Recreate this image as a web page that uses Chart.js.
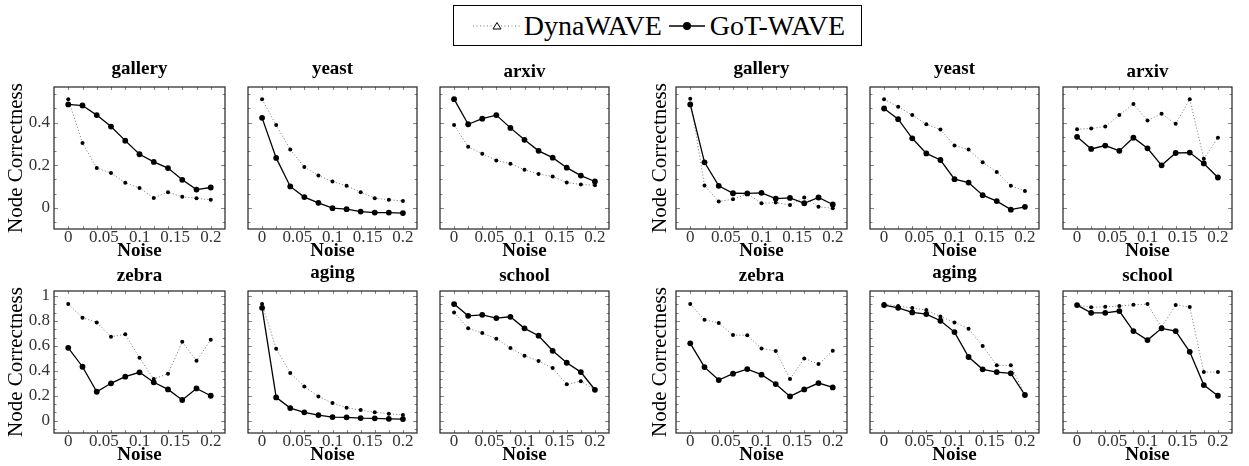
<!DOCTYPE html>
<html>
<head>
<meta charset="utf-8">
<script src="https://cdn.jsdelivr.net/npm/chart.js@4.4.0/dist/chart.umd.min.js"></script>
<style>
  body { margin: 0; background: #fff; width: 1249px; height: 466px; position: relative; overflow: hidden; font-family: "Liberation Serif", serif; }
  canvas { position: absolute; }
  #legend { position: absolute; left: 453px; top: 5px; width: 409px; height: 41px; border: 1px solid #000; box-sizing: border-box;
            display: flex; align-items: center; justify-content: center; font-size: 28px; color: #000; }
  #legend svg { margin: 0 3px; }
  #legend svg.solid { margin: 0 5px 0 7px; }
</style>
</head>
<body>
<div id="legend">
  <svg width="48" height="14"><line x1="0" y1="7" x2="48" y2="7" stroke="#777" stroke-width="1" stroke-dasharray="1 2.5"/><polygon points="24,3.5 28,10 20,10" fill="#fff" stroke="#000" stroke-width="1"/></svg>
  <span id="lgDyna"></span>
  <svg class="solid" width="36" height="14"><line x1="0" y1="7" x2="36" y2="7" stroke="#000" stroke-width="1.4"/><circle cx="18" cy="7" r="4" fill="#000"/></svg>
  <span id="lgGot"></span>
</div>
<script>
// noise levels (x) and axis ticks
const noise = [0, 0.02, 0.04, 0.06, 0.08, 0.1, 0.12, 0.14, 0.16, 0.18, 0.2];
const xTickValues = [0, 0.05, 0.1, 0.15, 0.2];
const xTickLabels = ["0", "0.05", "0.1", "0.15", "0.2"];
const yTicksTop = [0, 0.2, 0.4];
const yTicksTopLabels = ["0", "0.2", "0.4"];
const yTicksBottom = [0, 0.2, 0.4, 0.6, 0.8, 1];
const yTicksBottomLabels = ["0", "0.2", "0.4", "0.6", "0.8", "1"];
const seriesNames = ["DynaWAVE", "GoT-WAVE"];
const titles = ["gallery", "yeast", "arxiv", "zebra", "aging", "school"];

// left block
const galleryDynaA = [0.509, 0.304, 0.186, 0.163, 0.117, 0.093, 0.046, 0.073, 0.051, 0.045, 0.037];
const galleryGotA  = [0.485, 0.480, 0.435, 0.381, 0.315, 0.251, 0.215, 0.186, 0.131, 0.085, 0.095];
const yeastDynaA   = [0.509, 0.388, 0.274, 0.191, 0.151, 0.123, 0.103, 0.073, 0.045, 0.037, 0.032];
const yeastGotA    = [0.422, 0.234, 0.100, 0.050, 0.023, -0.002, -0.007, -0.018, -0.023, -0.023, -0.025];
const arxivDynaA   = [0.389, 0.286, 0.254, 0.222, 0.207, 0.178, 0.158, 0.147, 0.118, 0.109, 0.106];
const arxivGotA    = [0.510, 0.392, 0.418, 0.435, 0.375, 0.319, 0.267, 0.235, 0.188, 0.151, 0.123];
const zebraDynaA   = [0.935, 0.825, 0.788, 0.673, 0.692, 0.504, 0.333, 0.376, 0.632, 0.480, 0.648];
const zebraGotA    = [0.584, 0.432, 0.231, 0.299, 0.352, 0.387, 0.307, 0.250, 0.165, 0.258, 0.199];
const agingDynaA   = [0.935, 0.576, 0.381, 0.274, 0.194, 0.140, 0.103, 0.084, 0.066, 0.055, 0.044];
const agingGotA    = [0.905, 0.186, 0.100, 0.066, 0.044, 0.028, 0.026, 0.020, 0.018, 0.014, 0.012];
const schoolDynaA  = [0.868, 0.740, 0.702, 0.657, 0.582, 0.520, 0.478, 0.421, 0.291, 0.315, 0.247];
const schoolGotA   = [0.935, 0.841, 0.849, 0.823, 0.833, 0.740, 0.681, 0.560, 0.464, 0.389, 0.247];

// right block
const galleryDynaB = [0.512, 0.104, 0.029, 0.040, 0.065, 0.021, 0.024, 0.013, 0.048, 0.004, -0.002];
const galleryGotB  = [0.485, 0.213, 0.103, 0.068, 0.067, 0.070, 0.043, 0.046, 0.021, 0.048, 0.015];
const yeastDynaB   = [0.509, 0.474, 0.435, 0.392, 0.367, 0.292, 0.273, 0.213, 0.168, 0.103, 0.079];
const yeastGotB    = [0.466, 0.416, 0.326, 0.255, 0.224, 0.134, 0.118, 0.059, 0.031, -0.009, 0.004];
const arxivDynaB   = [0.369, 0.372, 0.381, 0.435, 0.487, 0.410, 0.441, 0.394, 0.509, 0.230, 0.329];
const arxivGotB    = [0.333, 0.276, 0.292, 0.267, 0.329, 0.279, 0.199, 0.257, 0.259, 0.208, 0.142];
const zebraDynaB   = [0.935, 0.809, 0.783, 0.686, 0.684, 0.579, 0.558, 0.333, 0.499, 0.453, 0.560];
const zebraGotB    = [0.620, 0.429, 0.325, 0.376, 0.413, 0.368, 0.293, 0.194, 0.250, 0.301, 0.266];
const agingDynaB   = [0.935, 0.919, 0.903, 0.887, 0.836, 0.788, 0.737, 0.598, 0.443, 0.443, 0.205];
const agingGotB    = [0.927, 0.905, 0.868, 0.855, 0.801, 0.710, 0.510, 0.411, 0.389, 0.379, 0.205];
const schoolDynaB  = [0.927, 0.909, 0.913, 0.919, 0.929, 0.935, 0.748, 0.927, 0.911, 0.389, 0.389];
const schoolGotB   = [0.927, 0.865, 0.865, 0.879, 0.718, 0.646, 0.740, 0.718, 0.552, 0.285, 0.199];

const panels = [
  { title: titles[0], group: 0, col: 0, row: 0, dyna: galleryDynaA, got: galleryGotA },
  { title: titles[1], group: 0, col: 1, row: 0, dyna: yeastDynaA, got: yeastGotA },
  { title: titles[2], group: 0, col: 2, row: 0, dyna: arxivDynaA, got: arxivGotA },
  { title: titles[3], group: 0, col: 0, row: 1, dyna: zebraDynaA, got: zebraGotA },
  { title: titles[4], group: 0, col: 1, row: 1, dyna: agingDynaA, got: agingGotA },
  { title: titles[5], group: 0, col: 2, row: 1, dyna: schoolDynaA, got: schoolGotA },
  { title: titles[0], group: 1, col: 0, row: 0, dyna: galleryDynaB, got: galleryGotB },
  { title: titles[1], group: 1, col: 1, row: 0, dyna: yeastDynaB, got: yeastGotB },
  { title: titles[2], group: 1, col: 2, row: 0, dyna: arxivDynaB, got: arxivGotB },
  { title: titles[3], group: 1, col: 0, row: 1, dyna: zebraDynaB, got: zebraGotB },
  { title: titles[4], group: 1, col: 1, row: 1, dyna: agingDynaB, got: agingGotB },
  { title: titles[5], group: 1, col: 2, row: 1, dyna: schoolDynaB, got: schoolGotB }
];

// layout of the plot boxes
const boxLefts = [54, 246, 438, 676, 868, 1061];
const boxTops = [87, 291];
const BOX_W = 171, BOX_H = 142;
const TITLE_H = 40, XAXIS_H = 32, RIGHT_PAD = 8;
const yRanges = [[-0.1, 0.567], [-0.1, 1.04]];

document.getElementById("lgDyna").textContent = seriesNames[0];
document.getElementById("lgGot").textContent = seriesNames[1];

Chart.defaults.font.family = "'Liberation Serif', 'Times New Roman', serif";
Chart.defaults.color = "#333";

// pgfplots-like frame with inward ticks
const frameTicks = {
  id: "frameTicks",
  afterDatasetsDraw(chart) {
    const { ctx, chartArea: a, scales: { x, y } } = chart;
    ctx.save();
    ctx.strokeStyle = "#666";
    ctx.lineWidth = 0.8;
    ctx.beginPath();
    noise.forEach(v => {
      const px = Math.round(x.getPixelForValue(v)) + 0.5;
      ctx.moveTo(px, a.bottom); ctx.lineTo(px, a.bottom - 3);
      ctx.moveTo(px, a.top); ctx.lineTo(px, a.top + 3);
    });
    const step = 0.2 / 3;
    for (let k = Math.ceil(y.min / step); k * step <= y.max + 1e-9; k++) {
      const py = Math.round(y.getPixelForValue(k * step)) + 0.5;
      const len = k % 3 === 0 ? 4 : 2.5;
      ctx.moveTo(a.left, py); ctx.lineTo(a.left + len, py);
      ctx.moveTo(a.right, py); ctx.lineTo(a.right - len, py);
    }
    ctx.stroke();
    ctx.strokeStyle = "#222";
    ctx.lineWidth = 1.2;
    ctx.strokeRect(a.left, a.top, a.right - a.left, a.bottom - a.top);
    ctx.restore();
  }
};

function toPoints(values) {
  return values.map((v, i) => ({ x: noise[i], y: v }));
}

panels.forEach(p => {
  const idx = p.group * 3 + p.col;
  const showY = p.col === 0;
  const showYTicks = showY && p.group === 0;
  const yw = showY ? (p.group === 0 ? 54 : 26) : 2;
  const canvas = document.createElement("canvas");
  canvas.width = yw + BOX_W + RIGHT_PAD;
  canvas.height = TITLE_H + BOX_H + XAXIS_H;
  canvas.style.left = (boxLefts[idx] - yw) + "px";
  canvas.style.top = (boxTops[p.row] - TITLE_H) + "px";
  document.body.appendChild(canvas);

  const desc = /[gjpqy]/.test(p.title);
  const [ymin, ymax] = yRanges[p.row];
  const yVals = p.row === 0 ? yTicksTop : yTicksBottom;
  const yLabs = p.row === 0 ? yTicksTopLabels : yTicksBottomLabels;

  new Chart(canvas, {
    type: "line",
    data: {
      datasets: [
        { label: seriesNames[1], data: toPoints(p.got), borderColor: "#000", borderWidth: 1.3,
          pointRadius: 2.9, pointBackgroundColor: "#000", pointBorderWidth: 0, order: 0 },
        { label: seriesNames[0], data: toPoints(p.dyna), borderColor: "#888", borderWidth: 1, borderDash: [1.2, 2],
          pointRadius: 2, pointBackgroundColor: "#000", pointBorderWidth: 0, order: 1 }
      ]
    },
    options: {
      responsive: false,
      animation: false,
      devicePixelRatio: 1,
      layout: { padding: { left: 0, right: RIGHT_PAD, top: 0, bottom: 0 } },
      plugins: {
        legend: { display: false },
        tooltip: { enabled: false },
        title: {
          display: true, text: p.title, fullSize: false, color: "#000",
          font: { size: 19, weight: "bold", lineHeight: 1 },
          padding: desc ? { top: 12.5, bottom: 8.5 } : { top: 16, bottom: 5 }
        }
      },
      scales: {
        x: {
          type: "linear", min: -0.02, max: 0.22,
          grid: { display: false, drawTicks: false },
          border: { display: false },
          afterBuildTicks: s => { s.ticks = xTickValues.map(v => ({ value: v })); },
          afterFit: s => { s.height = XAXIS_H; },
          ticks: {
            autoSkip: false, maxRotation: 0, padding: 0, color: "#333",
            font: { size: 17, lineHeight: 1 },
            callback: v => xTickLabels[xTickValues.indexOf(v)]
          },
          title: { display: true, text: "Noise", color: "#000", padding: 0,
                   font: { size: 19, weight: "bold", lineHeight: 1 } }
        },
        y: {
          type: "linear", min: ymin, max: ymax,
          grid: { display: false, drawTicks: false },
          border: { display: false },
          afterBuildTicks: s => { s.ticks = yVals.map(v => ({ value: v })); },
          afterFit: s => { s.width = yw; },
          ticks: {
            display: showYTicks, padding: 4, color: "#333",
            font: { size: 17, lineHeight: 1 },
            callback: v => yLabs[yVals.indexOf(v)]
          },
          title: { display: showY, text: "Node Correctness", color: "#000",
                   padding: p.group === 0 ? 6 : 0,
                   font: { size: 21, lineHeight: 1 } }
        }
      }
    },
    plugins: [frameTicks]
  });
});
</script>
</body>
</html>
